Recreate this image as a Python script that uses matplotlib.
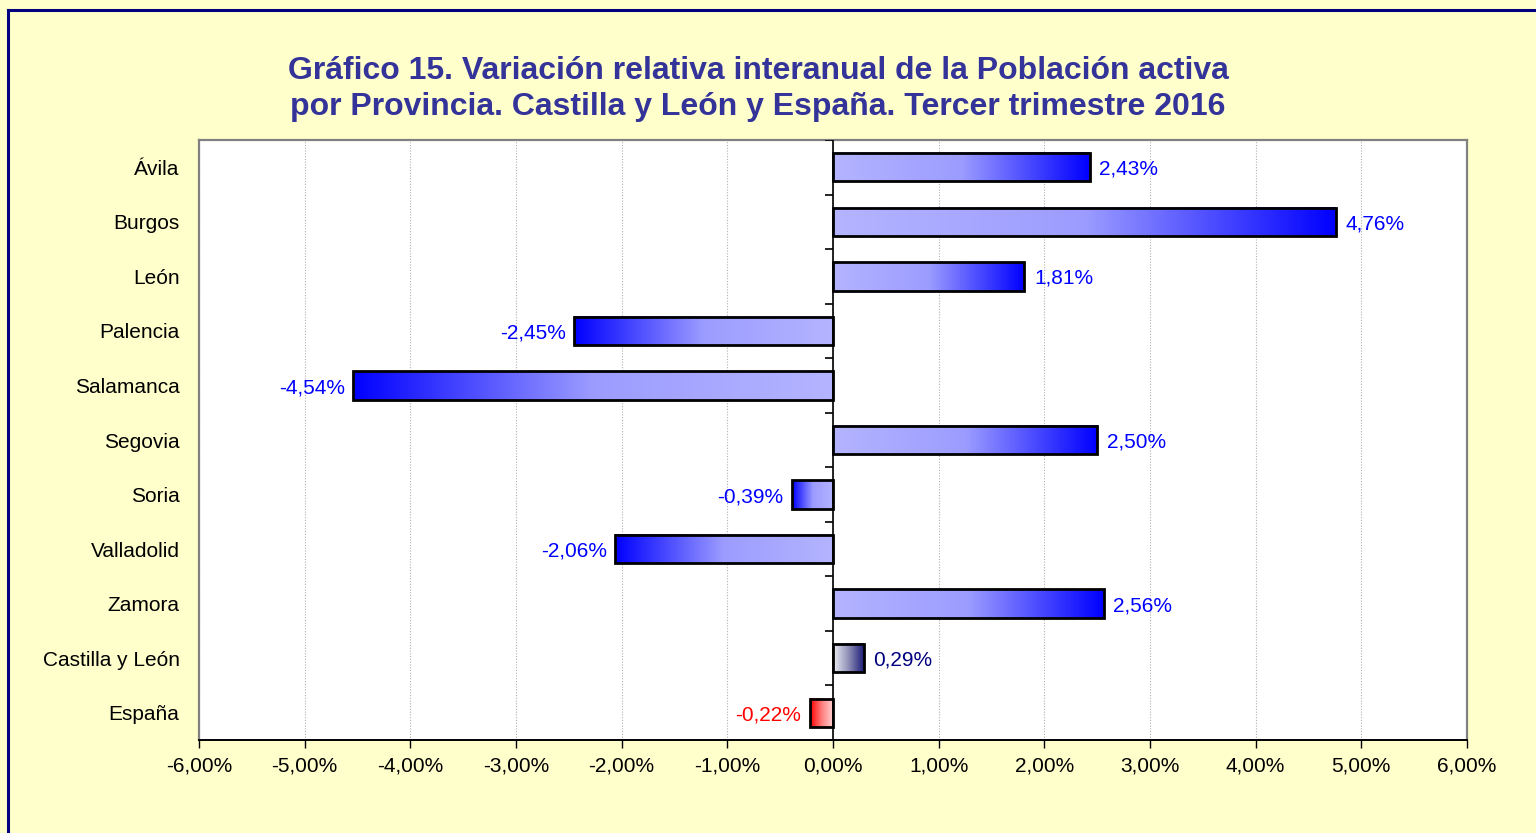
import numpy as np
import matplotlib
matplotlib.use("Agg")
import matplotlib.pyplot as plt
from matplotlib.colors import LinearSegmentedColormap
from matplotlib.lines import Line2D

plt.rcParams['font.family'] = ['Liberation Sans', 'DejaVu Sans']

# Data
categories = ["Ávila", "Burgos", "León", "Palencia", "Salamanca", "Segovia",
              "Soria", "Valladolid", "Zamora", "Castilla y León", "España"]
values = [2.43, 4.76, 1.81, -2.45, -4.54, 2.50, -0.39, -2.06, 2.56, 0.29, -0.22]
groups = ["prov"] * 9 + ["cyl", "esp"]
xticks = np.arange(-6, 7, 1)

title = ("Gráfico 15. Variación relativa interanual de la Población activa\n"
         "por Provincia. Castilla y León y España. Tercer trimestre 2016")

# colour maps: light near zero -> dark at bar tip
cmaps = {
    "prov": LinearSegmentedColormap.from_list(
        "prov", [(0, "#B4B4FF"), (0.5, "#9C9CFF"), (1, "#0000FF")]),
    "cyl": LinearSegmentedColormap.from_list(
        "cyl", [(0, "#EEEEF4"), (0.5, "#9090B8"), (1, "#1C1C78")]),
    "esp": LinearSegmentedColormap.from_list(
        "esp", [(0, "#FFD8D8"), (0.5, "#FF8080"), (1, "#FF0000")]),
}
label_colors = {"prov": "#0000FF", "cyl": "#000080", "esp": "#FF0000"}
fs = 15

fig = plt.figure(figsize=(15.36, 8.33), dpi=100)
fig.patch.set_facecolor("#FFFFCC")

# outer frame (left and top edges visible)
W, H = 1536, 833
fig.add_artist(Line2D([8 / W, 8 / W], [0, 1 - 10 / H], color="#000080", lw=2.2,
                      transform=fig.transFigure))
fig.add_artist(Line2D([8 / W, 1], [1 - 10 / H, 1 - 10 / H], color="#000080", lw=2.2,
                      transform=fig.transFigure))

ax = fig.add_axes([199 / W, 1 - 740 / H, (1467 - 199) / W, (740 - 140) / H])
ax.set_facecolor("white")

n = len(categories)
y = np.arange(n)
h = 0.52
grad = np.linspace(0, 1, 256).reshape(1, -1)

for yi, v, g in zip(y, values, groups):
    img = grad if v >= 0 else grad[:, ::-1]
    ax.imshow(img, extent=[min(0, v), max(0, v), yi + h / 2, yi - h / 2],
              aspect="auto", cmap=cmaps[g], interpolation="bicubic", zorder=2)
    ax.add_patch(plt.Rectangle((min(0, v), yi - h / 2), abs(v), h,
                               facecolor="none", edgecolor="black", lw=2, zorder=3))
    txt = f"{v:.2f}%".replace(".", ",")
    if v >= 0:
        ax.annotate(txt, (v, yi), xytext=(7, -1.5), textcoords="offset points",
                    ha="left", va="center", fontsize=fs, color=label_colors[g])
    else:
        ax.annotate(txt, (v, yi), xytext=(-6, -1.5), textcoords="offset points",
                    ha="right", va="center", fontsize=fs, color=label_colors[g])

ax.set_xlim(-6, 6)
ax.set_ylim(n - 0.5, -0.5)

# zero line with category tick marks
ax.axvline(0, color="black", lw=1.2, zorder=4)
ax.plot(np.zeros(n + 1), np.arange(n + 1) - 0.5, linestyle="none", marker=0,
        markersize=6, color="black", markeredgewidth=1.2, zorder=4)

ax.set_xticks(xticks)
ax.set_xticklabels([f"{t:.2f}%".replace(".", ",") for t in xticks], fontsize=fs)
ax.tick_params(axis="x", direction="out", length=6, width=1, pad=6, colors="black")
ax.set_yticks(y)
ax.set_yticklabels(categories, fontsize=fs)
ax.tick_params(axis="y", length=0, pad=14)
ax.grid(axis="x", color="#B0B0B0", linestyle=(0, (1, 1.5)), lw=0.8, zorder=1)
ax.set_axisbelow(True)

for s in ["top", "left", "right"]:
    ax.spines[s].set_color("#808080")
    ax.spines[s].set_linewidth(1.6)
ax.spines["bottom"].set_color("black")
ax.spines["bottom"].set_linewidth(1.4)

fig.text(758 / W, 1 - 89 / H, title, ha="center", va="center", fontsize=23,
         fontweight="bold", color="#333399", linespacing=1.25)

fig.savefig("out.png", dpi=100, facecolor=fig.get_facecolor())
